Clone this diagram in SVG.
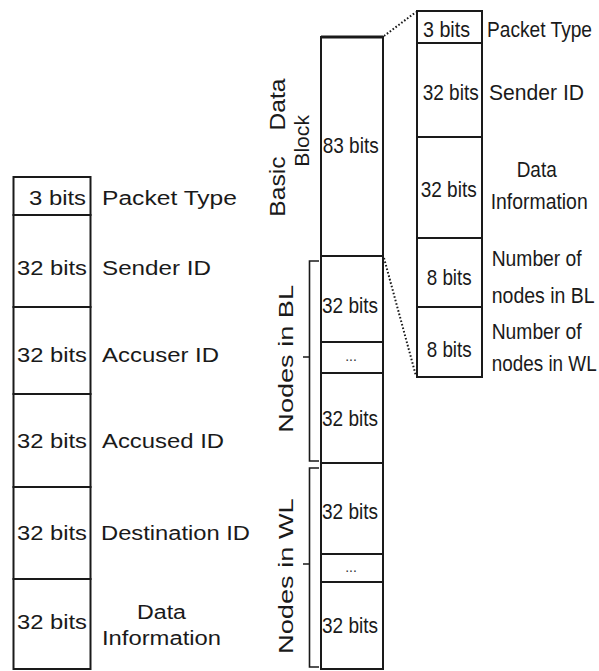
<svg xmlns="http://www.w3.org/2000/svg" width="599" height="671" viewBox="0 0 599 671">
<style>
.f{fill:#fff;stroke:#1a1a1a;stroke-width:2}
.t{font-family:"Liberation Sans",Arial,sans-serif;fill:#1a1a1a}
.l{font-size:19.5px}
.r{font-size:19px}
.v{font-size:21px}
.dots{font-family:"Liberation Sans",Arial,sans-serif;font-size:14px;fill:#333;text-anchor:middle}
.br{fill:none;stroke:#1a1a1a;stroke-width:1.6}
.dl{fill:none;stroke:#1a1a1a;stroke-width:2;stroke-dasharray:1.6,2}
</style>
<rect width="599" height="671" fill="#fff"/>

<!-- Left packet -->
<g id="left-packet">
 <g id="l-ptype"><rect class="f" x="13.5" y="177" width="77" height="38"/>
  <text class="t l" x="29" y="205" textLength="57" lengthAdjust="spacingAndGlyphs">3 bits</text>
  <text class="t l" x="102" y="205" textLength="135" lengthAdjust="spacingAndGlyphs">Packet Type</text></g>
 <g id="l-sender"><rect class="f" x="13.5" y="215" width="77" height="92"/>
  <text class="t l" x="17" y="275" textLength="70" lengthAdjust="spacingAndGlyphs">32 bits</text>
  <text class="t l" x="102" y="275" textLength="109" lengthAdjust="spacingAndGlyphs">Sender ID</text></g>
 <g id="l-accuser"><rect class="f" x="13.5" y="307" width="77" height="87"/>
  <text class="t l" x="17" y="362" textLength="70" lengthAdjust="spacingAndGlyphs">32 bits</text>
  <text class="t l" x="102" y="362" textLength="117" lengthAdjust="spacingAndGlyphs">Accuser ID</text></g>
 <g id="l-accused"><rect class="f" x="13.5" y="394" width="77" height="93"/>
  <text class="t l" x="17" y="448" textLength="70" lengthAdjust="spacingAndGlyphs">32 bits</text>
  <text class="t l" x="102" y="448" textLength="122" lengthAdjust="spacingAndGlyphs">Accused ID</text></g>
 <g id="l-dest"><rect class="f" x="13.5" y="487" width="77" height="92"/>
  <text class="t l" x="17" y="540" textLength="70" lengthAdjust="spacingAndGlyphs">32 bits</text>
  <text class="t l" x="101" y="540" textLength="149" lengthAdjust="spacingAndGlyphs">Destination ID</text></g>
 <g id="l-data"><rect class="f" x="13.5" y="579" width="77" height="90"/>
  <text class="t l" x="17" y="629" textLength="70" lengthAdjust="spacingAndGlyphs">32 bits</text>
  <text class="t l" x="137" y="619" textLength="49" lengthAdjust="spacingAndGlyphs">Data</text>
  <text class="t l" x="102" y="645" textLength="119" lengthAdjust="spacingAndGlyphs">Information</text></g>
</g>

<!-- Middle column -->
<g id="mid-column">
 <g id="m-basic"><rect class="f" x="321" y="37" width="62" height="219"/>
  <line x1="321" y1="37" x2="383" y2="37" stroke="#1a1a1a" stroke-width="3"/>
  <text class="t r" transform="translate(322.7,153) scale(1,1.2)" textLength="56" lengthAdjust="spacingAndGlyphs">83 bits</text></g>
 <g id="m-bl1"><rect class="f" x="321" y="256" width="62" height="86"/>
  <text class="t r" transform="translate(322,313) scale(1,1.2)" textLength="56" lengthAdjust="spacingAndGlyphs">32 bits</text></g>
 <g id="m-bl-dots"><rect class="f" x="321" y="342" width="62" height="31"/>
  <text class="dots" x="351" y="361">...</text></g>
 <g id="m-bl2"><rect class="f" x="321" y="373" width="62" height="90"/>
  <text class="t r" transform="translate(322,426) scale(1,1.2)" textLength="56" lengthAdjust="spacingAndGlyphs">32 bits</text></g>
 <g id="m-wl1"><rect class="f" x="321" y="463" width="62" height="91"/>
  <text class="t r" transform="translate(322,519) scale(1,1.2)" textLength="56" lengthAdjust="spacingAndGlyphs">32 bits</text></g>
 <g id="m-wl-dots"><rect class="f" x="321" y="554" width="62" height="28"/>
  <text class="dots" x="351" y="572">...</text></g>
 <g id="m-wl2"><rect class="f" x="321" y="582" width="62" height="87"/>
  <text class="t r" transform="translate(322,633) scale(1,1.2)" textLength="56" lengthAdjust="spacingAndGlyphs">32 bits</text></g>
</g>

<!-- Side labels and brackets -->
<g id="label-basic">
 <text class="t" transform="translate(285,216.7) rotate(-90) scale(1.12,1)" style="font-size:22px;word-spacing:17px">Basic Data</text>
 <text class="t v" transform="translate(309.3,166.7) rotate(-90)" textLength="51.7" lengthAdjust="spacingAndGlyphs">Block</text>
</g>
<g id="label-bl">
 <path class="br" d="M319,261 H309.5 V461 H319 M309.5,357 H303"/>
 <text class="t v" transform="translate(293.3,432.7) rotate(-90)" textLength="147.7" lengthAdjust="spacingAndGlyphs">Nodes in BL</text>
</g>
<g id="label-wl">
 <path class="br" d="M319,468 H309.5 V667 H319 M309.5,564 H303"/>
 <text class="t v" transform="translate(293.3,654) rotate(-90)" textLength="155.7" lengthAdjust="spacingAndGlyphs">Nodes in WL</text>
</g>

<!-- Detail of basic data block -->
<g id="detail">
 <g id="d-ptype"><rect class="f" x="417" y="11" width="65" height="32"/>
  <text class="t r" transform="translate(423,36.5) scale(1,1.2)" textLength="47" lengthAdjust="spacingAndGlyphs">3 bits</text>
  <text class="t r" transform="translate(487,36.5) scale(1,1.2)" textLength="105" lengthAdjust="spacingAndGlyphs">Packet Type</text></g>
 <g id="d-sender"><rect class="f" x="417" y="43" width="65" height="94"/>
  <text class="t r" transform="translate(422.7,100) scale(1,1.2)" textLength="56" lengthAdjust="spacingAndGlyphs">32 bits</text>
  <text class="t r" transform="translate(489,100) scale(1,1.2)" textLength="95" lengthAdjust="spacingAndGlyphs">Sender ID</text></g>
 <g id="d-data"><rect class="f" x="417" y="137" width="65" height="101"/>
  <text class="t r" transform="translate(420.7,196.7) scale(1,1.2)" textLength="56" lengthAdjust="spacingAndGlyphs">32 bits</text>
  <text class="t r" transform="translate(516.7,177) scale(1,1.2)" textLength="40" lengthAdjust="spacingAndGlyphs">Data</text>
  <text class="t r" transform="translate(490.7,209) scale(1,1.2)" textLength="97" lengthAdjust="spacingAndGlyphs">Information</text></g>
 <g id="d-nbl"><rect class="f" x="417" y="238" width="65" height="69"/>
  <text class="t r" transform="translate(426.7,285) scale(1,1.2)" textLength="45" lengthAdjust="spacingAndGlyphs">8 bits</text>
  <text class="t r" transform="translate(491.7,266) scale(1,1.2)" textLength="90" lengthAdjust="spacingAndGlyphs">Number of</text>
  <text class="t r" transform="translate(491.7,303) scale(1,1.2)" textLength="103" lengthAdjust="spacingAndGlyphs">nodes in BL</text></g>
 <g id="d-nwl"><rect class="f" x="417" y="307" width="65" height="70"/>
  <text class="t r" transform="translate(426.7,356.5) scale(1,1.2)" textLength="45" lengthAdjust="spacingAndGlyphs">8 bits</text>
  <text class="t r" transform="translate(491.7,339) scale(1,1.2)" textLength="90" lengthAdjust="spacingAndGlyphs">Number of</text>
  <text class="t r" transform="translate(491.7,370.5) scale(1,1.2)" textLength="105" lengthAdjust="spacingAndGlyphs">nodes in WL</text></g>
</g>

<!-- Connectors -->
<g id="connectors">
 <line class="dl" x1="384" y1="36" x2="416" y2="12"/>
 <line class="dl" x1="384" y1="258" x2="416" y2="376"/>
</g>
</svg>
